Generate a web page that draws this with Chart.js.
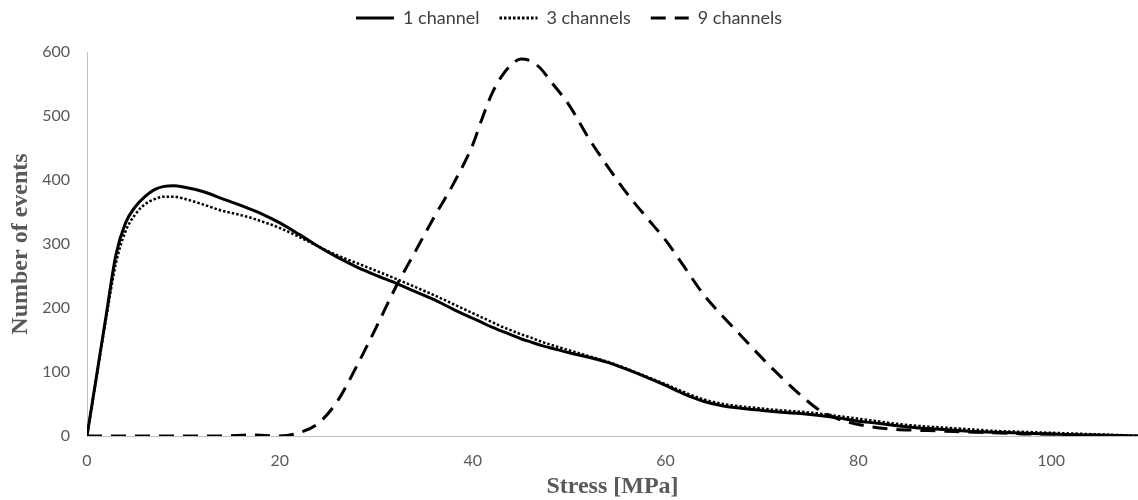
<!DOCTYPE html>
<html>
<head>
<meta charset="utf-8">
<script src="https://cdn.jsdelivr.net/npm/chart.js@4"></script>
<style>
  html, body { margin: 0; padding: 0; background: #ffffff; }
  #wrap { width: 1138px; height: 500px; position: relative; }
</style>
</head>
<body>
<div id="wrap"><canvas id="c" width="1138" height="500"></canvas></div>
<script>
const seriesNames = ['1 channel', '3 channels', '9 channels'];
const stress = [0,1,2,3,4,5,6,7,8,9,10,12,14,16,17,18,20,22,24,26,28,30,32,34,36,38,40,41,42,43,44,45,46,47,48,50,52,54,56,58,60,62,64,66,68,70,72,74,76,78,80,82,84,86,88,90,92,94,96,98,100,102,104,106,108,109];
const ch1 = [0,95,190,283,333,358,374,385,390,391,389,382,371,360,354,348,333,315,296,279,264,251,239,226,213,198,184,177,170,164,158,152,147,142,138,130,123,115,104,92,79,65,54,47,43,40,37,35,32,28,23,20,16,13,11,9,7,6,5,4,3,2,1.5,1,0.5,0];
const ch3 = [0,93,185,270,320,346,362,370,374,374,371,362,352,345,341,336,325,311,296,282,270,258,246,233,220,206,192,185,178,171,165,159,154,148,143,134,125,116,105,93,81,68,57,50,46,43,40,38,35,31,27,23,19,16,14,12,10,8,7,6,5,4,3,2,1,0.5];
const ch9 = [0,0,0,0,0,0,0,0,0,0,0,0,0,1,2,1,0,5,20,55,110,170,232,287,342,394,455,497,535,562,580,589,586,575,556,517,466,421,379,342,306,263,220,186,154,122,92,64,40,26,18,13,10,9,8,7,6,5,4,3,3,2,1,0.5,0,0];
const yTicks = [0,100,200,300,400,500,600];
const xTicks = [0,20,40,60,80,100];

const toPts = arr => stress.map((x, i) => ({ x: x, y: arr[i] }));
const grey = '#595959';

const legendHeightFix = {
  id: 'legendHeightFix',
  afterInit(chart) {
    const lg = chart.legend;
    if (!lg) return;
    const origFit = lg.fit;
    lg.fit = function () { origFit.call(this); this.height = 63; };
  }
};

new Chart(document.getElementById('c'), {
  type: 'line',
  data: {
    datasets: [
      { label: seriesNames[0], data: toPts(ch1), borderColor: '#000', borderWidth: 3, pointRadius: 0, cubicInterpolationMode: 'monotone', fill: false },
      { label: seriesNames[1], data: toPts(ch3), borderColor: '#000', borderWidth: 2.5, borderDash: [2.5, 2], pointRadius: 0, cubicInterpolationMode: 'monotone', fill: false },
      { label: seriesNames[2], data: toPts(ch9), borderColor: '#000', borderWidth: 3, borderDash: [15, 9], pointRadius: 0, cubicInterpolationMode: 'monotone', fill: false }
    ]
  },
  plugins: [legendHeightFix],
  options: {
    responsive: false,
    animation: false,
    devicePixelRatio: 1,
    layout: { padding: { left: 0, right: 0, top: -11, bottom: 0 } },
    plugins: {
      tooltip: { enabled: false },
      legend: {
        position: 'top',
        labels: {
          usePointStyle: true,
          pointStyle: 'line',
          pointStyleWidth: 38,
          boxWidth: 38,
          boxHeight: 18,
          padding: 20,
          color: '#404040',
          font: { family: 'Lato', size: 18 },
          generateLabels: chart => {
            const items = Chart.defaults.plugins.legend.labels.generateLabels(chart);
            items.forEach(it => {
              const ds = chart.data.datasets[it.datasetIndex];
              it.lineDash = ds.borderDash || [];
              it.lineWidth = 3;
              it.strokeStyle = '#000';
            });
            return items;
          }
        }
      }
    },
    scales: {
      x: {
        type: 'linear',
        min: 0,
        max: 109,
        afterBuildTicks: s => { s.ticks = xTicks.map(v => ({ value: v })); },
        afterFit: s => { s.height = 64; },
        grid: { display: false, drawTicks: false },
        border: { display: true, color: '#bfbfbf', width: 1 },
        ticks: { color: grey, font: { family: 'Lato', size: 16 }, padding: 15, maxRotation: 0 },
        title: { display: true, text: 'Stress [MPa]', color: grey, font: { family: 'Liberation Serif', size: 24, weight: 'bold' }, padding: { top: 0, bottom: -1 } }
      },
      y: {
        min: 0,
        max: 600,
        afterBuildTicks: s => { s.ticks = yTicks.map(v => ({ value: v })); },
        afterFit: s => { s.width = 87; },
        grid: { display: false, drawTicks: false },
        border: { display: true, color: '#bfbfbf', width: 1 },
        ticks: { color: grey, font: { family: 'Lato', size: 16 }, padding: 17 },
        title: { display: true, text: 'Number of events', color: grey, font: { family: 'Liberation Serif', size: 24, weight: 'bold' }, padding: { top: 6, bottom: 0 } }
      }
    }
  }
});
</script>
</body>
</html>
